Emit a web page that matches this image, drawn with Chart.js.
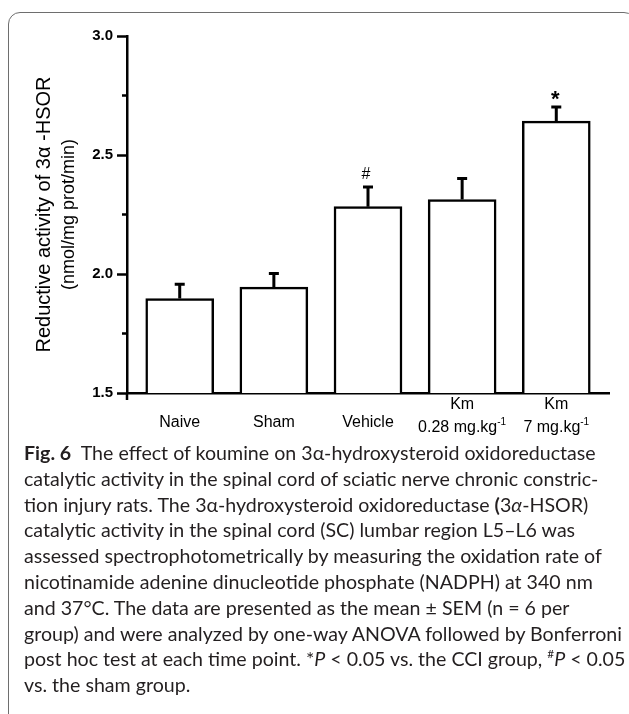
<!DOCTYPE html>
<html lang="en">
<head>
  <meta charset="UTF-8">
  <title>Fig. 6 - 3α-HSOR reductive activity</title>
  <script src="https://cdn.jsdelivr.net/npm/chart.js@4.4.3/dist/chart.umd.min.js"></script>
  <style>
    body {
      margin: 0;
      width: 629px;
      height: 714px;
      overflow: hidden;
      position: relative;
      background: #fff;
    }
    .frame {
      position: absolute;
      left: 8px;
      top: 12px;
      width: 628px;
      height: 800px;
      border: 1px solid #6e6e6e;
      border-radius: 12px;
      box-sizing: border-box;
    }
    #chart {
      position: absolute;
      left: 0;
      top: 0;
    }
    .caption {
      position: absolute;
      left: 24px;
      top: 440px;
      font-family: Lato, "Open Sans", sans-serif;
      font-size: 17px;
      line-height: 25.8px;
      color: #231f20;
      white-space: nowrap;
    }
    .caption .ln { width: max-content; }
    .caption sup { font-size: 0.6em; line-height: 0; }
  </style>
</head>
<body>
  <div class="frame"></div>
  <canvas id="chart" width="629" height="445"></canvas>
  <div class="caption" id="caption">
    <div class="ln"><b>Fig. 6</b>&nbsp; The effect of koumine on 3α-hydroxysteroid oxidoreductase</div>
    <div class="ln">catalytic activity in the spinal cord of sciatic nerve chronic constric-</div>
    <div class="ln">tion injury rats. The 3α-hydroxysteroid oxidoreductase <b>(</b>3<i>α</i>-HSOR)</div>
    <div class="ln">catalytic activity in the spinal cord (SC) lumbar region L5–L6 was</div>
    <div class="ln">assessed spectrophotometrically by measuring the oxidation rate of</div>
    <div class="ln">nicotinamide adenine dinucleotide phosphate (NADPH) at 340 nm</div>
    <div class="ln">and 37°C. The data are presented as the mean ± SEM (n = 6 per</div>
    <div class="ln" id="widest">group) and were analyzed by one-way ANOVA followed by Bonferroni</div>
    <div class="ln">post hoc test at each time point. *<i>P</i> &lt; 0.05 vs. the CCI group, <sup>#</sup><i>P</i> &lt; 0.05</div>
    <div class="ln">vs. the sham group.</div>
  </div>

  <script>
    // data
    const categoryLines = [['Naive'], ['Sham'], ['Vehicle'], ['Km', '0.28 mg.kg'], ['Km', '7 mg.kg']];
    const categorySup = ['', '', '', '-1', '-1'];
    const meanValues = [1.897, 1.945, 2.283, 2.313, 2.642];
    const semValues = [0.060, 0.057, 0.083, 0.088, 0.060];
    const markers = ['', '', '#', '', '*'];
    const yMinorTicks = [1.75, 2.25, 2.75];
    const yTitle = ['Reductive activity of 3α -HSOR', '(nmol/mg prot/min)'];

    const FONT = '"Liberation Sans", Arial, sans-serif';

    // fit caption so the widest line matches the original measure
    const widest = document.getElementById('widest');
    const cap = document.getElementById('caption');
    cap.style.fontSize = (17 * 598 / widest.offsetWidth) + 'px';

    // error bars, markers, minor ticks, axis title and category labels
    const extras = {
      id: 'extras',
      afterDatasetsDraw(chart) {
        const { ctx, chartArea, scales: { x, y } } = chart;
        ctx.save();
        ctx.strokeStyle = '#000';
        ctx.fillStyle = '#000';

        meanValues.forEach((m, i) => {
          const px = x.getPixelForValue(i + 1);
          const top = y.getPixelForValue(m + semValues[i]);
          const base = y.getPixelForValue(m);
          ctx.lineWidth = 3;
          ctx.beginPath();
          ctx.moveTo(px, base);
          ctx.lineTo(px, top);
          ctx.moveTo(px - 5, top);
          ctx.lineTo(px + 5, top);
          ctx.stroke();
          if (markers[i] === '*') {
            ctx.font = 'bold 22px ' + FONT;
            ctx.textAlign = 'center';
            ctx.textBaseline = 'alphabetic';
            ctx.fillText('*', px - 1, top - 1);
          } else if (markers[i]) {
            ctx.font = '16px ' + FONT;
            ctx.textAlign = 'center';
            ctx.textBaseline = 'alphabetic';
            ctx.fillText(markers[i], px - 2, top - 8);
          }
        });

        // minor ticks on y
        ctx.lineWidth = 2.5;
        ctx.beginPath();
        yMinorTicks.forEach(v => {
          const py = y.getPixelForValue(v);
          ctx.moveTo(chartArea.left - 5, py);
          ctx.lineTo(chartArea.left, py);
        });
        // y axis runs a little below the x axis
        ctx.moveTo(chartArea.left, chartArea.bottom);
        ctx.lineTo(chartArea.left, chartArea.bottom + 7);
        ctx.stroke();

        // y axis title
        ctx.save();
        ctx.translate(44, (chartArea.top + chartArea.bottom) / 2);
        ctx.rotate(-Math.PI / 2);
        ctx.textAlign = 'center';
        ctx.textBaseline = 'middle';
        ctx.font = '20px ' + FONT;
        ctx.fillText(yTitle[0], 0, 0);
        ctx.font = '18px ' + FONT;
        ctx.fillText(yTitle[1], 0, 25);
        ctx.restore();

        // category labels
        ctx.textBaseline = 'middle';
        categoryLines.forEach((lines, i) => {
          const px = x.getPixelForValue(i + 1);
          if (lines.length === 1) {
            ctx.font = '16px ' + FONT;
            ctx.textAlign = 'center';
            ctx.fillText(lines[0], px, chartArea.bottom + 30);
            return;
          }
          ctx.font = '16px ' + FONT;
          ctx.textAlign = 'center';
          ctx.fillText(lines[0], px, chartArea.bottom + 12);
          const w1 = ctx.measureText(lines[1]).width;
          ctx.font = '10px ' + FONT;
          const w2 = ctx.measureText(categorySup[i]).width;
          const start = px - (w1 + w2) / 2;
          ctx.textAlign = 'left';
          ctx.font = '16px ' + FONT;
          ctx.fillText(lines[1], start, chartArea.bottom + 35);
          ctx.font = '10px ' + FONT;
          ctx.fillText(categorySup[i], start + w1, chartArea.bottom + 29);
        });
        ctx.restore();
      }
    };

    new Chart(document.getElementById('chart'), {
      type: 'bar',
      data: {
        datasets: [{
          data: meanValues.map((v, i) => ({ x: i + 1, y: v })),
          backgroundColor: '#fff',
          borderColor: '#000',
          borderWidth: 2.5,
          barThickness: 68
        }]
      },
      options: {
        responsive: false,
        animation: false,
        layout: { padding: { top: 36, right: 20, left: 0, bottom: 0 } },
        plugins: { legend: { display: false }, tooltip: { enabled: false } },
        scales: {
          x: {
            type: 'linear',
            offset: false,
            min: 0.44,
            max: 5.56,
            grid: { display: false },
            border: { display: true, color: '#000', width: 2.5 },
            ticks: { display: false },
            afterFit(scale) { scale.height = 52; }
          },
          y: {
            min: 1.5,
            max: 3.0,
            ticks: {
              stepSize: 0.5,
              padding: 4,
              color: '#000',
              font: { family: FONT, size: 15, weight: 'bold' },
              callback: v => v.toFixed(1)
            },
            grid: {
              drawOnChartArea: false,
              tickLength: 10,
              tickWidth: 2.5,
              tickColor: '#000'
            },
            border: { display: true, color: '#000', width: 2.5 },
            afterFit(scale) { scale.width = 127; }
          }
        }
      },
      plugins: [extras]
    });
  </script>
</body>
</html>
